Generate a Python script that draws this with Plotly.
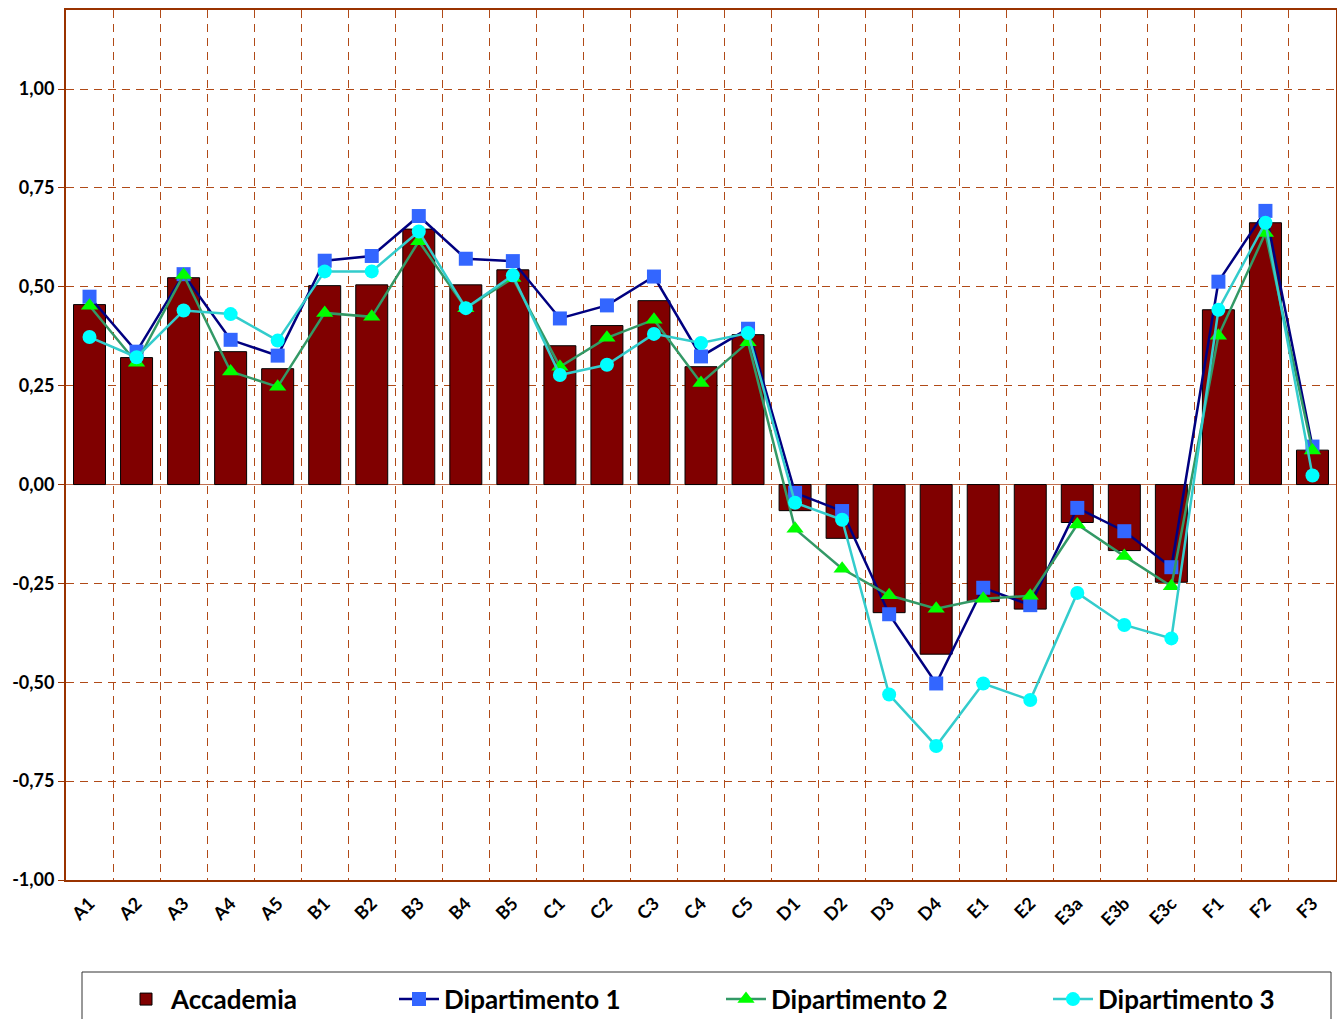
import plotly.graph_objects as go

categories = ["A1", "A2", "A3", "A4", "A5", "B1", "B2", "B3", "B4", "B5",
              "C1", "C2", "C3", "C4", "C5", "D1", "D2", "D3", "D4",
              "E1", "E2", "E3a", "E3b", "E3c", "F1", "F2", "F3"]

accademia = [0.455, 0.321, 0.523, 0.336, 0.293, 0.503, 0.505, 0.646, 0.505, 0.543,
             0.351, 0.402, 0.465, 0.298, 0.379, -0.066, -0.136, -0.324, -0.429,
             -0.296, -0.315, -0.096, -0.167, -0.247, 0.442, 0.662, 0.087]

dip1 = [0.475, 0.336, 0.532, 0.366, 0.326, 0.566, 0.578, 0.679, 0.571, 0.565,
        0.420, 0.453, 0.526, 0.324, 0.394, -0.021, -0.067, -0.328, -0.503,
        -0.261, -0.305, -0.059, -0.118, -0.209, 0.513, 0.692, 0.096]

dip2 = [0.452, 0.308, 0.530, 0.286, 0.247, 0.434, 0.424, 0.615, 0.446, 0.522,
        0.298, 0.371, 0.417, 0.257, 0.360, -0.112, -0.213, -0.280, -0.314,
        -0.289, -0.281, -0.101, -0.181, -0.257, 0.376, 0.636, 0.086]

dip3 = [0.373, 0.322, 0.440, 0.431, 0.364, 0.539, 0.539, 0.640, 0.446, 0.529,
        0.277, 0.303, 0.381, 0.358, 0.383, -0.046, -0.089, -0.531, -0.661,
        -0.503, -0.545, -0.274, -0.355, -0.389, 0.442, 0.662, 0.023]

y_ticks = [-1.0, -0.75, -0.5, -0.25, 0.0, 0.25, 0.5, 0.75, 1.0]
y_tick_labels = ["-1,00", "-0,75", "-0,50", "-0,25", "0,00", "0,25", "0,50", "0,75", "1,00"]

AXIS = "#993300"
GRID = "#B04A18"
FONT = "Lato"

fig = go.Figure()
fig.add_trace(go.Bar(
    x=categories, y=accademia, name="Accademia",
    marker=dict(color="#800000", line=dict(color="#000000", width=1)),
    legend="legend",
))
fig.add_trace(go.Scatter(
    x=categories, y=dip1, name="Dipartimento 1", mode="lines+markers",
    line=dict(color="#000080", width=2.5),
    marker=dict(symbol="square", size=14, color="#3366FF"),
    legend="legend2",
))
fig.add_trace(go.Scatter(
    x=categories, y=dip2, name="Dipartimento 2", mode="lines+markers",
    line=dict(color="#339966", width=2.5),
    marker=dict(symbol="triangle-up", size=15, color="#00FF00"),
    legend="legend3",
))
fig.add_trace(go.Scatter(
    x=categories, y=dip3, name="Dipartimento 3", mode="lines+markers",
    line=dict(color="#33CCCC", width=2.5),
    marker=dict(symbol="circle", size=14, color="#00FFFF"),
    legend="legend4",
))

def lx(px):
    return (px - 66) / 1270.0

leg_common = dict(
    orientation="h", yanchor="middle", y=-0.137, xanchor="left",
    font=dict(family=FONT, size=26, color="#000000", weight="bold"),
    bgcolor="rgba(0,0,0,0)", borderwidth=0, itemwidth=40,
)

fig.update_layout(
    width=1337, height=1019,
    margin=dict(l=66, r=1, t=10, b=139, pad=0, autoexpand=False),
    plot_bgcolor="white", paper_bgcolor="white",
    bargap=0.32,
    font=dict(family=FONT, color="#000000"),
    showlegend=True,
    legend=dict(x=lx(121), **leg_common),
    legend2=dict(x=lx(394), **leg_common),
    legend3=dict(x=lx(721), **leg_common),
    legend4=dict(x=lx(1048), **leg_common),
    xaxis=dict(
        type="category",
        tickson="boundaries",
        showgrid=True, gridcolor=GRID, gridwidth=1, griddash="8px,6px",
        showline=True, linecolor=AXIS, linewidth=2, mirror=True,
        ticks="", tickangle=-45, automargin=False, ticklabelstandoff=4,
        tickfont=dict(family=FONT, size=18, color="#000000", weight="bold"),
        range=[-0.5, len(categories) - 0.5],
    ),
    yaxis=dict(
        range=[-1.0, 1.2], automargin=False,
        tickvals=y_ticks, ticktext=y_tick_labels,
        showgrid=True, gridcolor=GRID, gridwidth=1, griddash="8px,6px",
        zeroline=True, zerolinecolor="#C07050", zerolinewidth=1,
        showline=True, linecolor=AXIS, linewidth=2, mirror=True,
        ticks="outside", ticklen=6, tickcolor=AXIS,
        tickfont=dict(family=FONT, size=18, color="#000000", weight="bold"),
    ),
    shapes=[dict(
        type="rect", xref="paper", yref="paper",
        x0=lx(82), x1=lx(1331), y0=-0.25, y1=(880 - 972) / 870.0,
        line=dict(color="#333333", width=1), fillcolor="rgba(0,0,0,0)",
        layer="below",
    )],
)

fig.write_html("out.html", config={"displayModeBar": False},
               post_script="document.body.style.margin='0';")
